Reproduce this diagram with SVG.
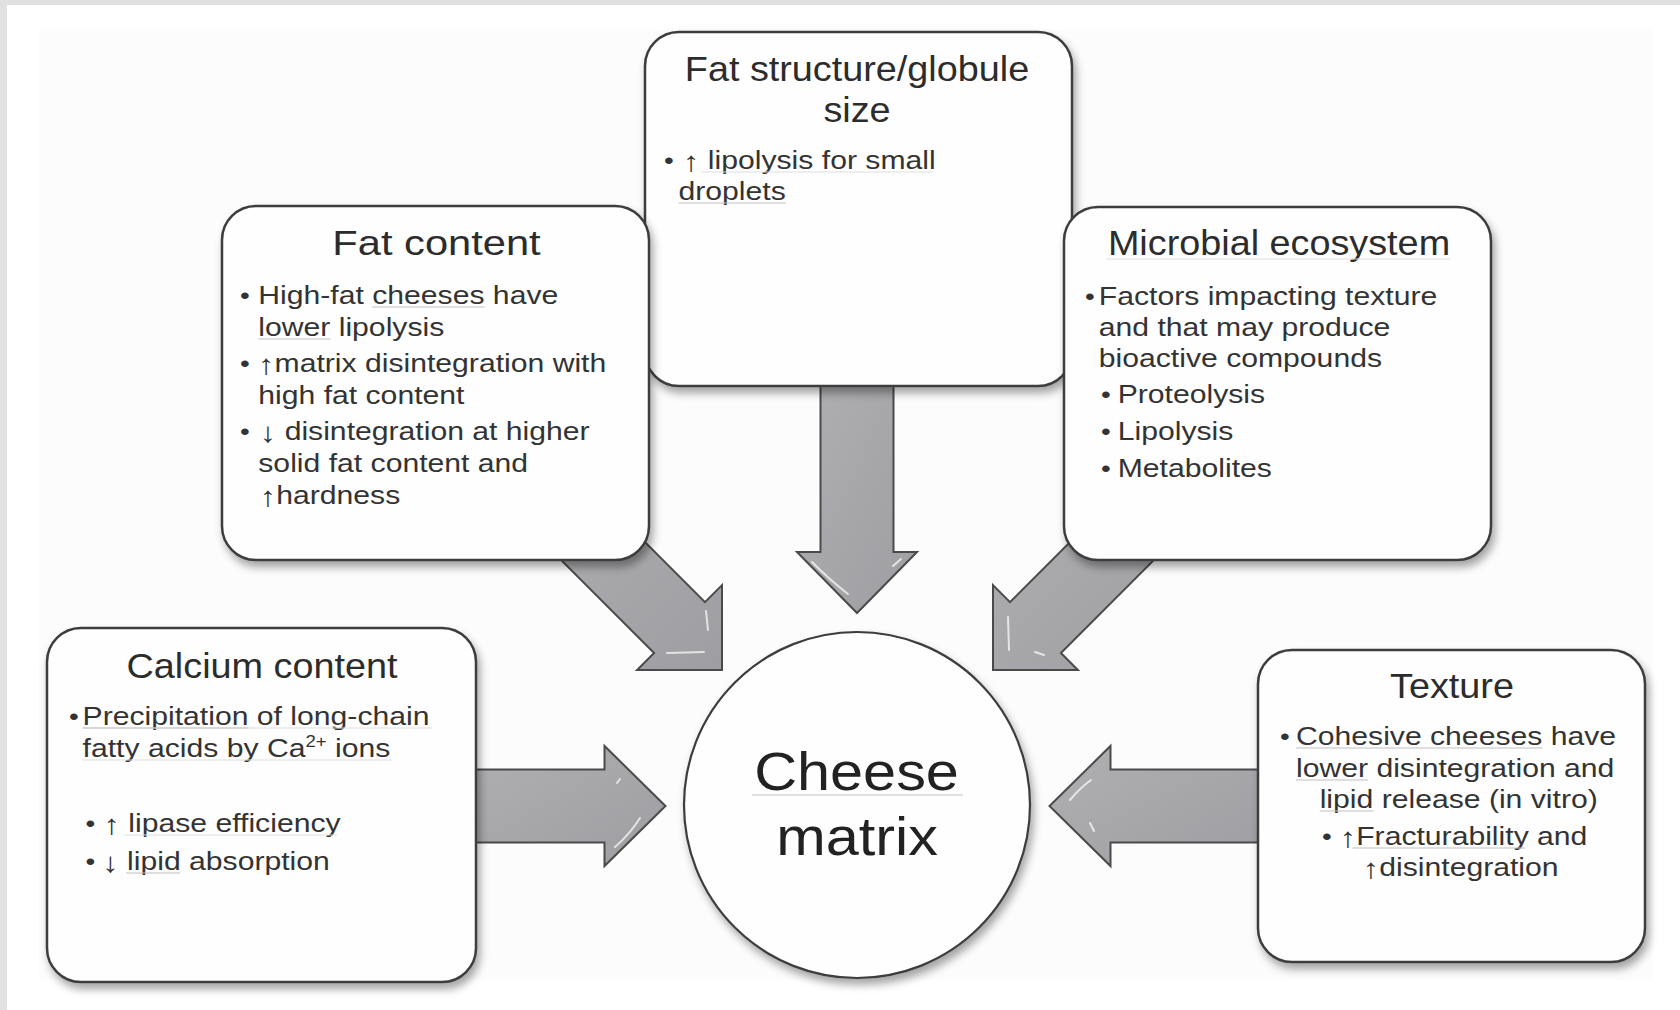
<svg xmlns="http://www.w3.org/2000/svg" width="1680" height="1010" viewBox="0 0 1680 1010">
<defs>
<filter id="sh" x="-10%" y="-10%" width="125%" height="125%">
<feDropShadow dx="3" dy="6" stdDeviation="4" flood-color="#000" flood-opacity="0.35"/>
</filter>
<linearGradient id="ag" x1="0" y1="0" x2="1" y2="1">
<stop offset="0" stop-color="#b0b0b3"/>
<stop offset="1" stop-color="#9e9ea2"/>
</linearGradient>
<style>
.t{font-family:'Liberation Sans',Arial,Helvetica,sans-serif;fill:#333;}
.title{font-size:35px;fill:#2c2c2c;}
.body{font-size:26px;}
.bul{font-size:24px;}
.ar{font-size:28px;}
.ctr{font-size:54px;fill:#222;}
.box{fill:#fefefe;stroke:#3c3c3c;stroke-width:2.5;filter:url(#sh);}
.arrow{fill:url(#ag);stroke:#4a4a4a;stroke-width:2;stroke-linejoin:miter;}
.hl{fill:none;stroke:#fff;stroke-width:2;stroke-linecap:round;opacity:.7;}
.ul{stroke:#c0c0c0;stroke-width:1.2;}
.ulf{stroke:#dedede;stroke-width:1.2;}
</style>
</defs>
<rect x="0" y="0" width="1680" height="1010" fill="#e1e1e1"/>
<rect x="7" y="5" width="1673" height="1005" fill="#ffffff"/>
<rect x="39" y="29" width="1614" height="951" fill="#fcfcfc"/>

<g id="connectors">
<polygon class="arrow" points="820.5,370 893.5,370 893.5,552 917,552 857,613 797,552 820.5,552"/>
<path class="hl" d="M812 562 Q830 580 848 594 M893 566 L901 559"/>
<polygon class="arrow" points="460,769.5 604.5,769.5 604.5,746 665.5,806 604.5,866 604.5,842.5 460,842.5"/>
<path class="hl" d="M615 847 Q630 834 640 818 M617 783 L620 779"/>
<polygon class="arrow" points="1275,769.5 1110.5,769.5 1110.5,746 1049.5,806 1110.5,866 1110.5,842.5 1275,842.5"/>
<path class="hl" d="M1070 800 Q1080 788 1091 780 M1090 823 L1094 831"/>
<polygon class="arrow" points="563.6,460.7 705,602.1 722,585.1 722,670 637.1,670 654.1,653 512.7,511.6"/>
<path class="hl" d="M667 653 L704 652 M706 611 L708 630"/>
<polygon class="arrow" points="1151.4,460.7 1010,602.1 993,585.1 993,670 1077.9,670 1060.9,653 1202.3,511.6"/>
<path class="hl" d="M1008 617 L1009 650 M1035 652 L1044 655"/>
</g>

<g id="fat-structure">
<rect class="box" x="645" y="32" width="427" height="354" rx="34"/>
<text class="t title" text-anchor="middle" transform="translate(857 81) scale(1.08 1)">Fat structure/globule</text>
<text class="t title" text-anchor="middle" transform="translate(857 121.5) scale(1.08 1)">size</text>
<text class="t body" transform="translate(678.5 0) scale(1.16 1)"><tspan class="bul" x="-12.5" y="169">•</tspan><tspan class="ar" x="4.1" y="171">↑</tspan><tspan dy="-2"> lipolysis for small</tspan><tspan x="0" y="200">droplets</tspan></text>
<line class="ulf" x1="701.7" y1="172" x2="932" y2="172"/>
<line class="ul" x1="678.5" y1="203" x2="785.8" y2="203"/>
</g>

<g id="fat-content">
<rect class="box" x="222" y="206" width="427" height="354" rx="34"/>
<text class="t title" text-anchor="middle" transform="translate(436.5 254.5) scale(1.19 1)">Fat content</text>
<text class="t body" transform="translate(258.3 0) scale(1.16 1)"><tspan class="bul" x="-15.8" y="304">•</tspan><tspan x="0" y="304">High-fat cheeses have</tspan><tspan x="0" y="336">lower lipolysis</tspan><tspan class="bul" x="-15.8" y="372">•</tspan><tspan class="ar" x="0" y="374">↑</tspan><tspan dy="-2">matrix disintegration with</tspan><tspan x="0" y="404">high fat content</tspan><tspan class="bul" x="-15.8" y="440">•</tspan><tspan class="ar" x="1.5" y="442">↓</tspan><tspan dy="-2"> disintegration at higher</tspan><tspan x="0" y="472">solid fat content and</tspan><tspan class="ar" x="1.5" y="506">↑</tspan><tspan dy="-2">hardness</tspan></text>
<line class="ul" x1="372.3" y1="307" x2="484.6" y2="307"/>
<line class="ul" x1="258.3" y1="339" x2="330.3" y2="339"/>
</g>

<g id="microbial-ecosystem">
<rect class="box" x="1064" y="207" width="427" height="353" rx="34"/>
<text class="t title" text-anchor="middle" transform="translate(1279 254.5) scale(1.08 1)">Microbial ecosystem</text>
<line class="ulf" x1="1106" y1="259" x2="1450" y2="259"/>
<text class="t body" transform="translate(1098.8 0) scale(1.16 1)"><tspan class="bul" x="-11.9" y="305">•</tspan><tspan x="0" y="305">Factors impacting texture</tspan><tspan x="0" y="336">and that may produce</tspan><tspan x="0" y="367">bioactive compounds</tspan><tspan class="bul" x="1.9" y="403">•</tspan><tspan x="16.3" y="403">Proteolysis</tspan><tspan class="bul" x="1.9" y="440">•</tspan><tspan x="16.3" y="440">Lipolysis</tspan><tspan class="bul" x="1.9" y="477">•</tspan><tspan x="16.3" y="477">Metabolites</tspan></text>
</g>

<g id="calcium-content">
<rect class="box" x="47" y="628" width="429" height="354" rx="34"/>
<text class="t title" text-anchor="middle" transform="translate(262 678) scale(1.08 1)">Calcium content</text>
<text class="t body" transform="translate(82.6 0) scale(1.16 1)"><tspan class="bul" x="-11.7" y="725">•</tspan><tspan x="0" y="725">Precipitation of long-chain</tspan><tspan x="0" y="757">fatty acids by Ca</tspan><tspan font-size="16" dy="-10">2+</tspan><tspan dy="10"> ions</tspan><tspan class="bul" x="2.5" y="832">•</tspan><tspan class="ar" x="18.2" y="834">↑</tspan><tspan dy="-2"> lipase efficiency</tspan><tspan class="bul" x="2.5" y="870">•</tspan><tspan class="ar" x="17.1" y="872">↓</tspan><tspan dy="-2"> lipid absorption</tspan></text>
<line class="ulf" x1="82.6" y1="728" x2="432" y2="728"/>
<line class="ul" x1="82.6" y1="728" x2="248.5" y2="728"/>
<line class="ulf" x1="82.6" y1="760" x2="392" y2="760"/>
<line class="ulf" x1="124.7" y1="835" x2="337" y2="835"/>
<line class="ul" x1="126" y1="873" x2="180" y2="873"/>
</g>

<g id="texture">
<rect class="box" x="1258" y="650" width="387" height="312" rx="34"/>
<text class="t title" text-anchor="middle" transform="translate(1452 698) scale(1.08 1)">Texture</text>
<text class="t body" transform="translate(1296 0) scale(1.16 1)"><tspan class="bul" x="-13.8" y="745">•</tspan><tspan x="0" y="745">Cohesive cheeses have</tspan><tspan x="0" y="777">lower disintegration and</tspan><tspan x="20.4" y="808">lipid release (in vitro)</tspan><tspan class="bul" x="22.4" y="845">•</tspan><tspan class="ar" x="37.9" y="847">↑</tspan><tspan dy="-2">Fracturability and</tspan><tspan class="ar" x="57.8" y="878">↑</tspan><tspan dy="-2">disintegration</tspan></text>
<line class="ul" x1="1296" y1="748" x2="1542.4" y2="748"/>
<line class="ul" x1="1296" y1="780" x2="1368" y2="780"/>
<line class="ul" x1="1319.7" y1="811" x2="1373.3" y2="811"/>
<line class="ul" x1="1352.5" y1="848" x2="1525" y2="848"/>
</g>

<g id="cheese-matrix">
<circle cx="857" cy="805" r="173" fill="#fefefe" stroke="#3c3c3c" stroke-width="2.2" filter="url(#sh)"/>
<text class="t ctr" text-anchor="middle" transform="translate(856.5 790) scale(1.1 1)">Cheese</text>
<text class="t ctr" text-anchor="middle" transform="translate(857 855) scale(1.1 1)">matrix</text>
<line class="ul" x1="752" y1="795" x2="963" y2="795"/>
</g>
</svg>
